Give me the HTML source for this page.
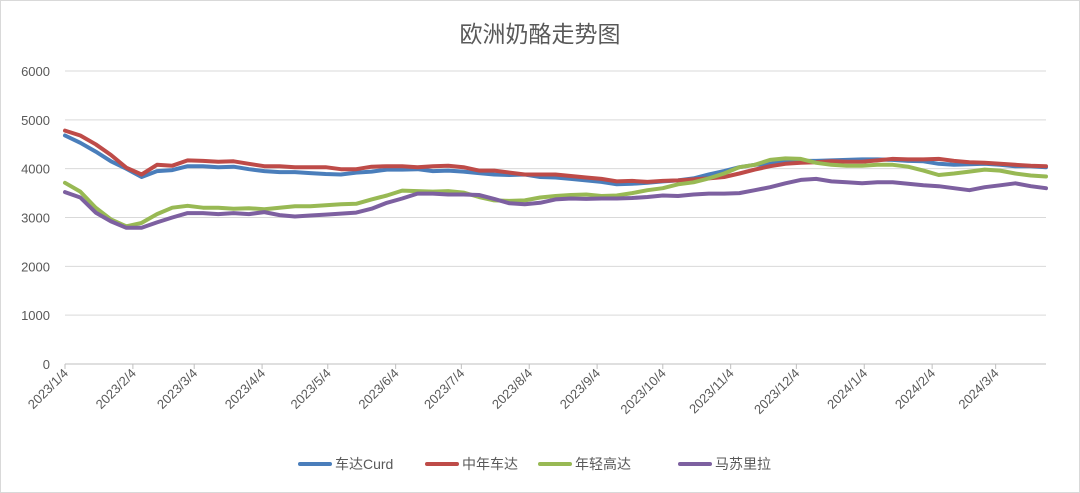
<!DOCTYPE html>
<html><head><meta charset="utf-8"><style>
body{margin:0;background:#fff;}
svg{display:block;font-family:"Liberation Sans","Noto Sans CJK SC",sans-serif;}
</style></head><body>
<svg id="c" width="1080" height="493">
<rect x="0.5" y="0.5" width="1079" height="492" fill="#fff" stroke="#d9d9d9"/>
<text x="540" y="42" text-anchor="middle" font-size="23" fill="#595959">欧洲奶酪走势图</text>
<g id="grid"></g><g id="yt"></g><g id="xt"></g><g id="lines"></g><g id="legend"></g>
</svg>
<script>
const yTicks=[0,1000,2000,3000,4000,5000,6000];
const xTickLabels=["2023/1/4","2023/2/4","2023/3/4","2023/4/4","2023/5/4","2023/6/4","2023/7/4","2023/8/4","2023/9/4","2023/10/4","2023/11/4","2023/12/4","2024/1/4","2024/2/4","2024/3/4"];
const seriesNames=["车达Curd","中年车达","年轻高达","马苏里拉"];
const seriesColors=["#4a7ebb","#be4b48","#98b954","#7d60a0"];
const curd=[4680,4530,4350,4150,4000,3830,3950,3970,4050,4050,4030,4040,3990,3950,3930,3930,3910,3890,3880,3920,3940,3980,3980,3990,3950,3960,3940,3910,3880,3870,3880,3830,3820,3790,3760,3730,3680,3690,3710,3740,3760,3800,3880,3950,4030,4080,4100,4150,4160,4160,4170,4180,4190,4190,4180,4160,4150,4100,4080,4090,4100,4080,4050,4050,4030];
const matureCheddar=[4780,4680,4500,4280,4020,3880,4080,4060,4170,4160,4140,4150,4100,4050,4050,4030,4030,4030,3990,3990,4040,4050,4050,4030,4050,4060,4030,3960,3960,3920,3880,3880,3880,3850,3820,3790,3740,3750,3730,3750,3760,3780,3800,3830,3900,3980,4050,4100,4120,4130,4150,4140,4140,4170,4200,4190,4190,4200,4160,4130,4120,4100,4080,4060,4050];
const youngGouda=[3710,3530,3200,2960,2820,2890,3070,3200,3240,3200,3200,3180,3190,3170,3200,3230,3230,3250,3270,3280,3370,3450,3550,3540,3530,3540,3510,3420,3350,3340,3350,3410,3440,3460,3470,3440,3450,3500,3560,3600,3680,3720,3800,3900,4030,4080,4180,4210,4200,4120,4080,4060,4060,4080,4080,4040,3960,3870,3900,3940,3980,3960,3900,3860,3840];
const mozzarella=[3520,3410,3100,2920,2790,2790,2900,3000,3090,3090,3070,3090,3070,3110,3050,3020,3040,3060,3080,3100,3180,3300,3390,3490,3490,3470,3470,3460,3380,3290,3270,3300,3370,3390,3380,3390,3390,3400,3420,3450,3440,3470,3490,3490,3500,3560,3620,3700,3770,3790,3740,3720,3700,3720,3720,3690,3660,3640,3600,3560,3620,3660,3700,3640,3600];
const allSeries=[curd,matureCheddar,youngGouda,mozzarella];
const NS="http://www.w3.org/2000/svg";
const X0=65,X1=1046,Y0=364,Y6=71,START=new Date(2023,0,4);
const N=curd.length;
const dayPx=(X1-X0)/((N-1)*7);
function xDay(d){return X0+d*dayPx;}
function xIdx(i){return xDay(i*7);}
function y(v){return Y0-(v/6000)*(Y0-Y6);}
function mk(tag,attrs,parent){const e=document.createElementNS(NS,tag);for(const k in attrs)e.setAttribute(k,attrs[k]);parent.appendChild(e);return e;}
const grid=document.getElementById('grid'),yt=document.getElementById('yt'),xt=document.getElementById('xt'),lines=document.getElementById('lines'),legend=document.getElementById('legend');
yTicks.forEach(v=>{
  const l=mk('line',{x1:X0,x2:X1,y1:y(v),y2:y(v),stroke:v===0?'#bfbfbf':'#d9d9d9','stroke-width':1},grid);
  
  
  const t=mk('text',{x:50,y:y(v)+5,'text-anchor':'end','font-size':13,fill:'#595959'},yt);
  t.textContent=v;
  
  
});
xTickLabels.forEach(s=>{
  const p=s.split('/').map(Number);
  const d=Math.round((new Date(p[0],p[1]-1,p[2])-START)/86400000);
  const x=xDay(d);
  const tk=mk('line',{x1:x,x2:x,y1:Y0,y2:Y0+5,stroke:'#bfbfbf'},xt);
  
  
  const t=mk('text',{x:x+4,y:Y0+10,'text-anchor':'end','font-size':13,fill:'#595959',transform:`rotate(-45 ${x+4} ${Y0+10})`},xt);
  t.textContent=s;
  
  
});
allSeries.forEach((arr,si)=>{
  const pts=arr.map((v,i)=>xIdx(i).toFixed(1)+','+y(v).toFixed(1)).join(' ');
  const pl=mk('polyline',{points:pts,fill:'none',stroke:seriesColors[si],'stroke-width':4,'stroke-linejoin':'round','stroke-linecap':'round'},lines);
  
  
});
const legX=[300,427,540,680];
seriesNames.forEach((n,i)=>{
  const g=mk('g',{},legend);
  
  
  mk('line',{x1:legX[i],x2:legX[i]+30,y1:464,y2:464,stroke:seriesColors[i],'stroke-width':4,'stroke-linecap':'round'},g);
  const t=mk('text',{x:legX[i]+35,y:469,'font-size':14,fill:'#595959'},g);
  t.textContent=n;
});
</script>
</body></html>
